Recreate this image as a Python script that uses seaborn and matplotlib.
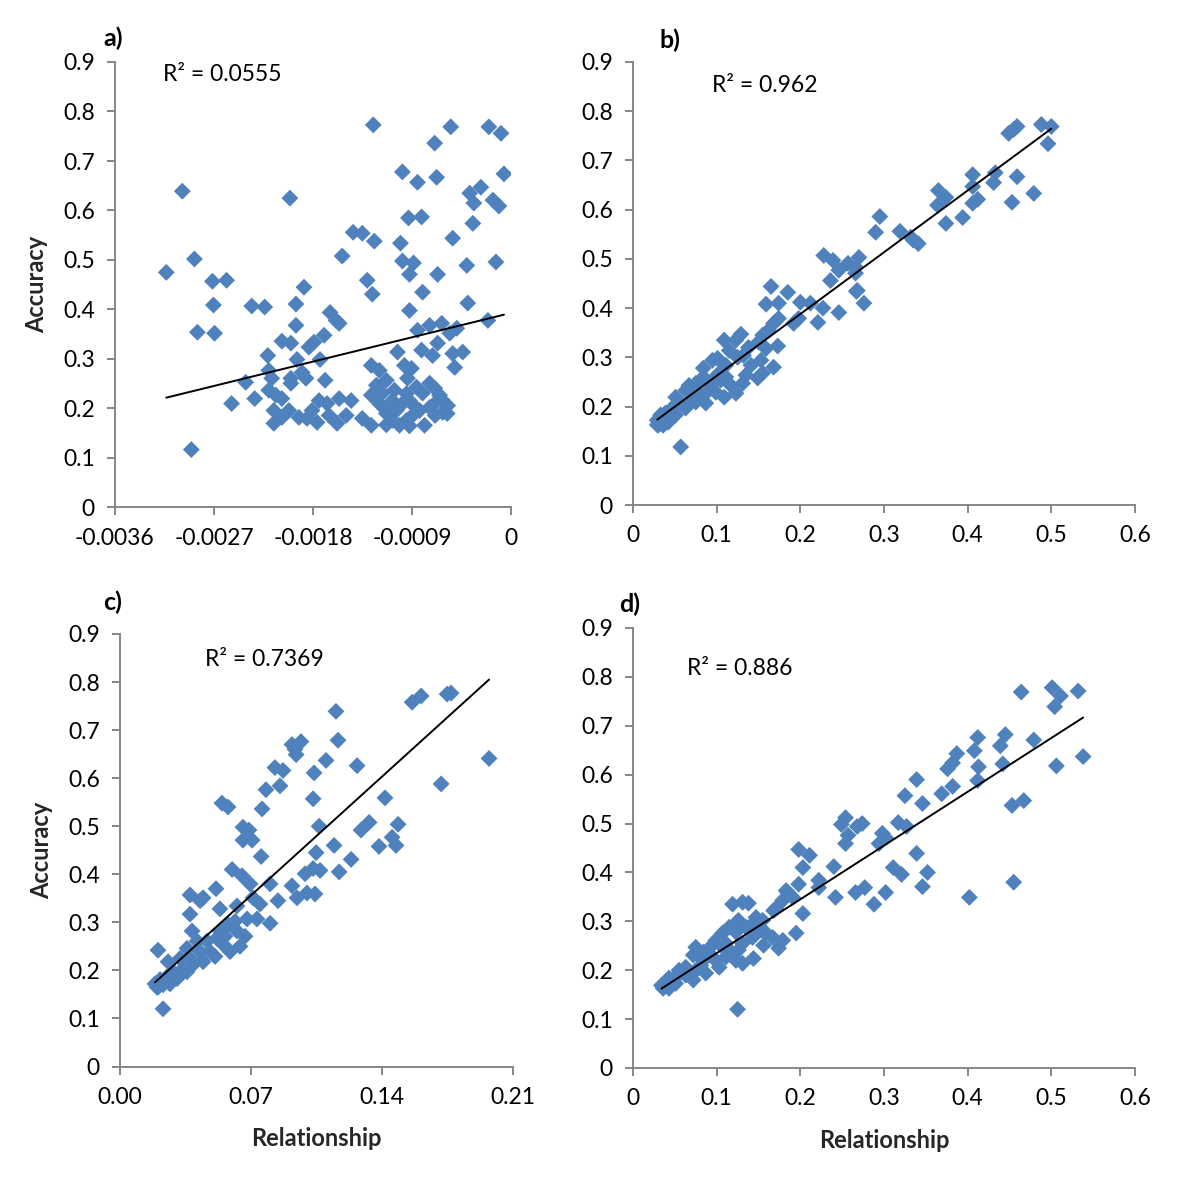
import numpy as np
import matplotlib
matplotlib.use("Agg")
import matplotlib.pyplot as plt
import seaborn as sns

# ---------------- data ----------------
xa = [-0.001252, -0.000548, -0.000201, -0.000091, -0.000694, -0.000987, -0.000850, -0.000676, -0.000064, -0.000274,
      -0.000375, -0.000338, -0.000164, -0.000110, -0.002988, -0.002010, -0.000932, -0.000813, -0.000347, -0.001435,
      -0.001352, -0.001243, -0.001005, -0.000530, -0.001535, -0.002878, -0.003134, -0.000987, -0.000886, -0.000923,
      -0.000667, -0.000402, -0.000137, -0.002714, -0.002586, -0.001882, -0.001307, -0.001261, -0.000804, -0.002705,
      -0.002357, -0.002239, -0.001955, -0.001645, -0.001590, -0.000923, -0.000393, -0.002851, -0.002695, -0.001955,
      -0.001562, -0.002083, -0.002001, -0.001837, -0.001791, -0.001699, -0.002211, -0.001946, -0.001736, -0.002202,
      -0.002175, -0.002001, -0.001900, -0.001864, -0.002001, -0.001690, -0.002412, -0.001270, -0.001197, -0.001032,
      -0.000969, -0.000905, -0.000941, -0.000850, -0.000740, -0.000630, -0.000557, -0.000493, -0.000667, -0.000813,
      -0.000713, -0.000530, -0.000439, -0.000512, -0.000210, -0.002540, -0.002330, -0.002202, -0.002138, -0.002083,
      -0.002156, -0.002156, -0.002083, -0.002019, -0.001928, -0.001855, -0.001809, -0.001745, -0.001763, -0.001672,
      -0.001654, -0.001581, -0.001562, -0.001453, -0.001498, -0.001352, -0.001270, -0.001270, -0.001224, -0.001133,
      -0.001170, -0.001197, -0.001078, -0.001133, -0.001042, -0.000987, -0.000923, -0.000859, -0.000804, -0.000740,
      -0.000694, -0.000649, -0.000621, -0.000576, -0.000621, -0.000740, -0.000831, -0.000895, -0.000950, -0.001014,
      -0.000923, -0.000786, -0.001133, -0.001078, -0.002906, -0.000667,
      -0.001060, -0.000690, -0.000580, -0.001150, -0.000950, -0.000880]
ya = [0.773, 0.769, 0.769, 0.756, 0.736, 0.678, 0.657, 0.667, 0.674, 0.647,
      0.635, 0.615, 0.621, 0.609, 0.639, 0.625, 0.585, 0.587, 0.574, 0.556,
      0.554, 0.538, 0.534, 0.544, 0.508, 0.502, 0.475, 0.498, 0.494, 0.471,
      0.471, 0.489, 0.496, 0.457, 0.459, 0.445, 0.459, 0.431, 0.435, 0.409,
      0.407, 0.405, 0.411, 0.394, 0.378, 0.398, 0.413, 0.354, 0.352, 0.368,
      0.372, 0.336, 0.332, 0.324, 0.334, 0.348, 0.307, 0.299, 0.299, 0.277,
      0.261, 0.261, 0.273, 0.261, 0.251, 0.257, 0.253, 0.287, 0.277, 0.314,
      0.287, 0.281, 0.261, 0.358, 0.368, 0.372, 0.352, 0.362, 0.332, 0.318,
      0.307, 0.311, 0.314, 0.283, 0.378, 0.210, 0.220, 0.237, 0.227, 0.220,
      0.196, 0.170, 0.182, 0.196, 0.182, 0.180, 0.196, 0.216, 0.172, 0.210,
      0.186, 0.170, 0.220, 0.216, 0.186, 0.180, 0.166, 0.227, 0.247, 0.257,
      0.231, 0.210, 0.216, 0.190, 0.196, 0.210, 0.216, 0.243, 0.231, 0.251,
      0.241, 0.227, 0.216, 0.206, 0.192, 0.202, 0.196, 0.186, 0.176, 0.166,
      0.165, 0.166, 0.167, 0.176, 0.117, 0.216,
      0.237, 0.186, 0.190, 0.200, 0.230, 0.205]

xb = [0.449, 0.455, 0.459, 0.488, 0.500, 0.496, 0.406, 0.433, 0.459, 0.431,
      0.406, 0.365, 0.374, 0.364, 0.412, 0.406, 0.453, 0.479, 0.394, 0.374,
      0.295, 0.290, 0.319, 0.332, 0.335, 0.341, 0.228, 0.239, 0.270, 0.257,
      0.266, 0.246, 0.236, 0.266, 0.165, 0.185, 0.268, 0.159, 0.174, 0.200,
      0.212, 0.227, 0.246, 0.221, 0.276, 0.267, 0.192, 0.198, 0.174, 0.168,
      0.162, 0.155, 0.150, 0.159, 0.173, 0.168, 0.155, 0.149, 0.131, 0.129,
      0.123, 0.109, 0.138, 0.132, 0.125, 0.101, 0.111, 0.103, 0.095, 0.111,
      0.084, 0.084, 0.075, 0.067, 0.063, 0.075, 0.087, 0.099, 0.109, 0.087,
      0.075, 0.063, 0.051, 0.048, 0.051, 0.039, 0.031, 0.030, 0.036, 0.042,
      0.029, 0.029, 0.057, 0.123,
      0.117, 0.135, 0.141, 0.153, 0.081, 0.069, 0.057, 0.093, 0.105, 0.045, 0.033, 0.095, 0.115]
yb = [0.755, 0.763, 0.769, 0.773, 0.769, 0.734, 0.671, 0.675, 0.667, 0.655,
      0.647, 0.639, 0.625, 0.609, 0.621, 0.613, 0.615, 0.633, 0.584, 0.572,
      0.586, 0.554, 0.556, 0.544, 0.538, 0.531, 0.507, 0.497, 0.503, 0.491,
      0.483, 0.477, 0.456, 0.471, 0.444, 0.432, 0.436, 0.408, 0.410, 0.412,
      0.410, 0.400, 0.391, 0.371, 0.410, 0.434, 0.369, 0.379, 0.379, 0.369,
      0.355, 0.345, 0.331, 0.318, 0.323, 0.280, 0.268, 0.258, 0.247, 0.347,
      0.335, 0.335, 0.320, 0.304, 0.300, 0.298, 0.284, 0.268, 0.254, 0.260,
      0.278, 0.260, 0.247, 0.243, 0.233, 0.229, 0.227, 0.229, 0.219, 0.207,
      0.209, 0.197, 0.219, 0.199, 0.183, 0.187, 0.176, 0.162, 0.162, 0.168,
      0.172, 0.163, 0.118, 0.227,
      0.243, 0.264, 0.284, 0.294, 0.223, 0.213, 0.207, 0.243, 0.254, 0.176, 0.183, 0.294, 0.314]

xc = [0.1154, 0.1561, 0.1609, 0.1748, 0.1769, 0.1972, 0.1165, 0.0919, 0.0967, 0.0935,
      0.0941, 0.1101, 0.1267, 0.0828, 0.0871, 0.1037, 0.0855, 0.0780, 0.1716, 0.0545,
      0.0577, 0.0759, 0.1032, 0.1416, 0.0657, 0.0689, 0.0657, 0.0706, 0.1064, 0.1331,
      0.1288, 0.1486, 0.1454, 0.1475, 0.1384, 0.1144, 0.1048, 0.0754, 0.1235, 0.0599,
      0.0652, 0.0989, 0.1032, 0.1069, 0.1171, 0.0695, 0.0802, 0.0513, 0.0374, 0.0444,
      0.0428, 0.0711, 0.0844, 0.0919, 0.0946, 0.0999, 0.1042, 0.0374, 0.0534, 0.0625,
      0.0679, 0.0732, 0.0802, 0.0748, 0.0625, 0.0577, 0.0534, 0.0385, 0.0358, 0.0412,
      0.0465, 0.0518, 0.0551, 0.0481, 0.0428, 0.0374, 0.0321, 0.0444, 0.0390, 0.0337,
      0.0203, 0.0257, 0.0283, 0.0251, 0.0214, 0.0187, 0.0198, 0.0230, 0.0267, 0.0305,
      0.0203, 0.0230, 0.0321, 0.0358,
      0.0588, 0.0641, 0.0508, 0.0561, 0.0668, 0.0615]
yc = [0.739, 0.758, 0.771, 0.775, 0.777, 0.641, 0.679, 0.670, 0.676, 0.660,
      0.649, 0.637, 0.626, 0.622, 0.616, 0.611, 0.584, 0.576, 0.588, 0.548,
      0.540, 0.536, 0.557, 0.559, 0.498, 0.492, 0.471, 0.471, 0.500, 0.508,
      0.492, 0.504, 0.477, 0.460, 0.458, 0.460, 0.445, 0.437, 0.431, 0.410,
      0.397, 0.401, 0.412, 0.408, 0.405, 0.380, 0.380, 0.370, 0.357, 0.351,
      0.345, 0.351, 0.345, 0.376, 0.351, 0.361, 0.359, 0.317, 0.328, 0.334,
      0.307, 0.307, 0.298, 0.338, 0.282, 0.296, 0.282, 0.282, 0.246, 0.261,
      0.261, 0.267, 0.254, 0.239, 0.239, 0.225, 0.225, 0.218, 0.212, 0.204,
      0.242, 0.218, 0.197, 0.187, 0.181, 0.172, 0.165, 0.170, 0.172, 0.183,
      0.165, 0.120, 0.191, 0.197,
      0.239, 0.250, 0.229, 0.271, 0.271, 0.302]

xd = [0.464, 0.501, 0.511, 0.504, 0.532, 0.538, 0.506, 0.412, 0.445, 0.439,
      0.479, 0.408, 0.387, 0.382, 0.376, 0.413, 0.442, 0.412, 0.382, 0.369,
      0.339, 0.325, 0.346, 0.453, 0.467, 0.254, 0.249, 0.268, 0.274, 0.317,
      0.327, 0.257, 0.254, 0.298, 0.302, 0.294, 0.198, 0.211, 0.203, 0.240,
      0.339, 0.311, 0.321, 0.352, 0.455, 0.346, 0.222, 0.222, 0.198, 0.266,
      0.277, 0.302, 0.242, 0.402, 0.288, 0.185, 0.191, 0.179, 0.119, 0.131,
      0.138, 0.171, 0.183, 0.203, 0.168, 0.147, 0.155, 0.126, 0.115, 0.135,
      0.123, 0.107, 0.099, 0.111, 0.159, 0.153, 0.167, 0.179, 0.195, 0.143,
      0.156, 0.174, 0.131, 0.126, 0.115, 0.091, 0.084, 0.075, 0.072, 0.084,
      0.099, 0.111, 0.103, 0.123, 0.131, 0.144, 0.087, 0.072, 0.063, 0.055,
      0.051, 0.072, 0.043, 0.039, 0.034, 0.036, 0.043, 0.051, 0.125,
      0.081, 0.093, 0.063, 0.105, 0.141]
yd = [0.769, 0.778, 0.761, 0.739, 0.771, 0.637, 0.618, 0.676, 0.682, 0.659,
      0.671, 0.649, 0.643, 0.624, 0.612, 0.616, 0.622, 0.588, 0.576, 0.561,
      0.590, 0.557, 0.541, 0.537, 0.547, 0.512, 0.498, 0.494, 0.500, 0.502,
      0.494, 0.476, 0.459, 0.480, 0.471, 0.459, 0.447, 0.435, 0.410, 0.412,
      0.439, 0.410, 0.396, 0.400, 0.380, 0.371, 0.384, 0.369, 0.376, 0.359,
      0.369, 0.359, 0.349, 0.349, 0.335, 0.359, 0.349, 0.343, 0.335, 0.339,
      0.337, 0.327, 0.363, 0.316, 0.322, 0.308, 0.302, 0.302, 0.288, 0.288,
      0.278, 0.276, 0.261, 0.255, 0.276, 0.282, 0.267, 0.261, 0.276, 0.267,
      0.251, 0.245, 0.255, 0.241, 0.241, 0.245, 0.237, 0.247, 0.231, 0.220,
      0.220, 0.227, 0.206, 0.220, 0.214, 0.224, 0.194, 0.194, 0.206, 0.200,
      0.186, 0.180, 0.184, 0.176, 0.169, 0.163, 0.163, 0.173, 0.120,
      0.210, 0.231, 0.190, 0.251, 0.292]

# linear trend lines (slope, intercept) and R² labels as shown in the reference
trend_a = (54.6, 0.393)
trend_b = (1.255, 0.137)
trend_c = (3.53, 0.109)
trend_d = (1.10, 0.125)
r2_labels = ["R² = 0.0555", "R² = 0.962", "R² = 0.7369", "R² = 0.886"]
panel_letters = ["a)", "b)", "c)", "d)"]

y_ticks = [0, 0.1, 0.2, 0.3, 0.4, 0.5, 0.6, 0.7, 0.8, 0.9]
y_ticklabels = ["0", "0.1", "0.2", "0.3", "0.4", "0.5", "0.6", "0.7", "0.8", "0.9"]
xa_ticks = [-0.0036, -0.0027, -0.0018, -0.0009, 0]
xa_ticklabels = ["-0.0036", "-0.0027", "-0.0018", "-0.0009", "0"]
xbd_ticks = [0, 0.1, 0.2, 0.3, 0.4, 0.5, 0.6]
xbd_ticklabels = ["0", "0.1", "0.2", "0.3", "0.4", "0.5", "0.6"]
xc_ticks = [0.0, 0.07, 0.14, 0.21]
xc_ticklabels = ["0.00", "0.07", "0.14", "0.21"]

x_label = "Relationship"
y_label = "Accuracy"

# ---------------- styling ----------------
sns.set_theme(style="white")
plt.rcParams["font.family"] = ["Lato", "DejaVu Sans"]

BLUE = "#4F81BD"
AXIS_GREY = "#868686"
W, H = 1200, 1188
TICK_FS = 16.5
LABEL_FS = 17

fig = plt.figure(figsize=(W / 100, H / 100), dpi=100)
fig.patch.set_facecolor("white")


def rect(left, right, top, bottom):
    return [left / W, 1 - bottom / H, (right - left) / W, (bottom - top) / H]


panels = [
    dict(x=xa, y=ya, trend=trend_a, rect=rect(115, 511, 62, 507.5), xlim=(-0.0036, 0),
         xt=xa_ticks, xtl=xa_ticklabels, r2=r2_labels[0], r2pos=(0.121, 0.971),
         letter=panel_letters[0], letpos=(113, 38), ylab=True, xlab=False),
    dict(x=xb, y=yb, trend=trend_b, rect=rect(633, 1135, 62, 505), xlim=(0, 0.6),
         xt=xbd_ticks, xtl=xbd_ticklabels, r2=r2_labels[1], r2pos=(0.157, 0.948),
         letter=panel_letters[1], letpos=(670, 40), ylab=False, xlab=False),
    dict(x=xc, y=yc, trend=trend_c, rect=rect(120, 513, 634, 1066.5), xlim=(0, 0.21),
         xt=xc_ticks, xtl=xc_ticklabels, r2=r2_labels[2], r2pos=(0.216, 0.940),
         letter=panel_letters[2], letpos=(113, 602), ylab=True, xlab=True),
    dict(x=xd, y=yd, trend=trend_d, rect=rect(633, 1135, 628, 1068), xlim=(0, 0.6),
         xt=xbd_ticks, xtl=xbd_ticklabels, r2=r2_labels[3], r2pos=(0.108, 0.909),
         letter=panel_letters[3], letpos=(630, 604), ylab=False, xlab=True),
]

for p in panels:
    ax = fig.add_axes(p["rect"])
    ax.set_facecolor("white")
    sns.scatterplot(x=p["x"], y=p["y"], ax=ax, marker="D", s=74, color=BLUE,
                    linewidth=0, edgecolor="none", zorder=3, legend=False)
    slope, icpt = p["trend"]
    xx = np.array([min(p["x"]), max(p["x"])])
    sns.lineplot(x=xx, y=slope * xx + icpt, ax=ax, color="black", linewidth=1.4,
                 zorder=4, legend=False)

    ax.set_xlim(*p["xlim"])
    ax.set_ylim(0, 0.9)
    ax.set_xticks(p["xt"])
    ax.set_xticklabels(p["xtl"])
    ax.set_yticks(y_ticks)
    ax.set_yticklabels(y_ticklabels)

    for side in ["top", "right"]:
        ax.spines[side].set_visible(False)
    for side in ["left", "bottom"]:
        ax.spines[side].set_color(AXIS_GREY)
        ax.spines[side].set_linewidth(1.4)

    ax.tick_params(axis="both", which="major", direction="out", length=5.5, width=1.4,
                   color=AXIS_GREY, labelsize=TICK_FS, labelcolor="black",
                   bottom=True, left=True)
    ax.tick_params(axis="y", pad=9)
    ax.tick_params(axis="x", pad=9)

    if p["ylab"]:
        ax.set_ylabel(y_label, fontsize=LABEL_FS, fontweight="bold", labelpad=11)
    else:
        ax.set_ylabel("")
    if p["xlab"]:
        ax.set_xlabel(x_label, fontsize=LABEL_FS, fontweight="bold", labelpad=14)
    else:
        ax.set_xlabel("")

    ax.text(p["r2pos"][0], p["r2pos"][1], p["r2"], transform=ax.transAxes,
            fontsize=TICK_FS, ha="left", va="center", color="black")
    lx, ly = p["letpos"]
    fig.text(lx / W, 1 - ly / H, p["letter"], fontsize=18, fontweight="bold",
             ha="center", va="center", color="black")

fig.savefig("out.png", dpi=100, facecolor="white")
